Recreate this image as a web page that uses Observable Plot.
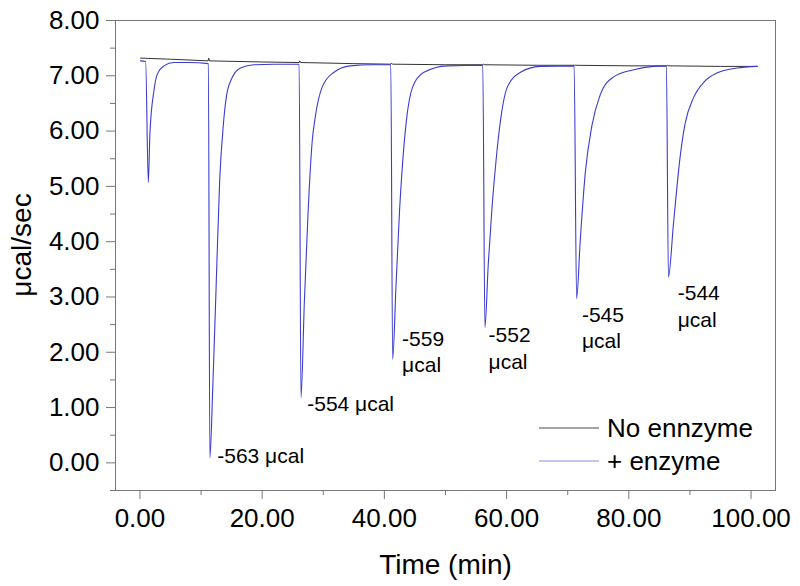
<!DOCTYPE html>
<html><head><meta charset="utf-8">
<script src="https://cdn.jsdelivr.net/npm/d3@7"></script>
<script src="https://cdn.jsdelivr.net/npm/@observablehq/plot@0.6"></script>
<style>body{margin:0;background:#fff;} #chart{width:800px;height:586px;}</style>
</head><body><div id="chart"></div>
<script>
// ---- data ----
const xMajorTicks = [0, 20, 40, 60, 80, 100];
const xMinorTicks = [10, 30, 50, 70, 90];
const yMajorTicks = [0, 1, 2, 3, 4, 5, 6, 7, 8];
const yMinorTicks = [-0.5, 0.5, 1.5, 2.5, 3.5, 4.5, 5.5, 6.5, 7.5];

const seriesNames = ["No ennzyme", "+ enzyme"];
const seriesColors = ["#333333", "#3b3bd4"];

const noEnzymeTime  = [0.1, 5, 11.15, 11.25, 11.4, 20, 26.05, 26.15, 26.3, 35, 41.05, 41.15, 41.3, 50, 56.1, 56.2, 56.3, 65, 71.1, 71.2, 71.3, 80, 86.2, 86.3, 86.4, 95, 101];
const noEnzymeValue = [7.32, 7.3, 7.27, 7.32, 7.27, 7.25, 7.24, 7.27, 7.24, 7.22, 7.21, 7.23, 7.21, 7.2, 7.2, 7.21, 7.2, 7.19, 7.19, 7.2, 7.19, 7.18, 7.18, 7.19, 7.18, 7.17, 7.17];

const enzymeTime = [
  0.1, 0.93, 1.37, 1.63, 2.29, 2.84, 3.92, 5.56, 8, 11.2,
  11.44, 11.93, 12.49, 13.06, 13.62, 14.17, 15.02, 16.45, 18.7, 22, 26.05,
  26.35, 26.9, 27.5, 28.2, 28.6, 29.8, 31.7, 34.4, 38, 41.05,
  41.35, 41.9, 42.5, 43.1, 43.6, 44.6, 46.4, 50.3, 56.1,
  56.45, 57.0, 57.6, 58.3, 59.0, 60.1, 62.2, 65.5, 71.05,
  71.45, 72.05, 72.86, 73.96, 75.3, 77.5, 80.8, 84.0, 86.15,
  86.48, 87.3, 88.39, 89.2, 90.57, 92.4, 94.4, 97.67, 101
];
const enzymeValue = [
  7.27, 7.26, 5.07, 5.95, 6.73, 7.03, 7.18, 7.24, 7.24, 7.22,
  0.09, 1.4, 3.27, 5.14, 6.08, 6.64, 6.95, 7.14, 7.2, 7.21, 7.21,
  1.18, 2.9, 4.5, 5.83, 6.19, 6.79, 7.06, 7.18, 7.2, 7.2,
  1.87, 3.2, 4.6, 5.6, 6.19, 6.79, 7.06, 7.18, 7.19,
  2.45, 3.6, 4.6, 5.5, 6.19, 6.79, 7.06, 7.17, 7.18,
  2.97, 4.02, 5.23, 6.1, 6.65, 6.98, 7.11, 7.17, 7.18,
  3.36, 4.32, 5.53, 6.13, 6.6, 6.9, 7.05, 7.14, 7.17
];

const peakLabels = ["-563 μcal", "-554 μcal", "-559\nμcal", "-552\nμcal", "-545\nμcal", "-544\nμcal"];
const peakLabelTime = [12.65, 27.37, 42.9, 57.05, 72.32, 88.0];
const peakLabelValue = [-0.01, 0.933, 1.638, 1.705, 2.07, 2.465];

const xTitle = "Time (min)";
const yTitle = "μcal/sec";

// ---- build tables ----
const noEnzymeRows = noEnzymeTime.map((t, i) => ({t, v: noEnzymeValue[i]}));
const enzymeRows = enzymeTime.map((t, i) => ({t, v: enzymeValue[i]}));
const peakRows = peakLabels.map((s, i) => ({s, t: peakLabelTime[i], v: peakLabelValue[i]}));
const fmt = d3.format(".2f");
const FONT = "'Liberation Sans', Arial, Helvetica, sans-serif";

const plot = Plot.plot({
  width: 800, height: 586,
  marginLeft: 115, marginRight: 25, marginTop: 20, marginBottom: 96,
  style: {fontFamily: FONT, fontSize: "26px", background: "#fff", color: "#000"},
  x: {domain: [-4, 104]},
  y: {domain: [-0.5, 8]},
  marks: [
    Plot.axisX(xMinorTicks, {tickSize: 5, tickFormat: () => "", stroke: "#777", label: null}),
    Plot.axisX(xMajorTicks, {tickSize: 9, tickPadding: 9, tickFormat: fmt, stroke: "#777", fill: "#000", label: null}),
    Plot.axisY(yMinorTicks, {tickSize: 5, tickFormat: () => "", stroke: "#777", label: null}),
    Plot.axisY(yMajorTicks, {tickSize: 9, tickPadding: 7, tickFormat: fmt, stroke: "#777", fill: "#000", label: null}),
    Plot.frame({stroke: "#777"}),
    Plot.line(noEnzymeRows, {x: "t", y: "v", stroke: seriesColors[0], strokeWidth: 1}),
    Plot.line(enzymeRows, {x: "t", y: "v", stroke: seriesColors[1], strokeWidth: 1.1, curve: "monotone-x"}),
    Plot.text(peakRows, {x: "t", y: "v", text: "s", textAnchor: "start", lineAnchor: "bottom", fontSize: 21, lineHeight: 1.26, fill: "#000"}),
    Plot.text([xTitle], {text: d => d, frameAnchor: "bottom", lineAnchor: "bottom", dy: 83, fontSize: 28, fill: "#000"})
  ]
});
document.getElementById("chart").appendChild(plot);

const svg = d3.select(plot);
// y-axis title
svg.append("text")
  .attr("transform", "translate(22,245) rotate(-90)")
  .attr("text-anchor", "middle").attr("dy", "0.32em")
  .attr("font-family", FONT).attr("font-size", 28).attr("fill", "#000")
  .text(yTitle);

// legend (inside plot area, lower right)
const lg = svg.append("g").attr("font-family", FONT).attr("font-size", 26).attr("text-anchor", "start");
seriesNames.forEach((name, i) => {
  const y = 428 + i * 33;
  lg.append("line").attr("x1", 539).attr("x2", 599).attr("y1", y).attr("y2", y)
    .attr("stroke", seriesColors[i]).attr("stroke-opacity", i ? 0.6 : 0.9);
  lg.append("text").attr("x", 607).attr("y", y).attr("dy", "0.36em").attr("fill", "#000").text(name);
});
</script>
</body></html>
